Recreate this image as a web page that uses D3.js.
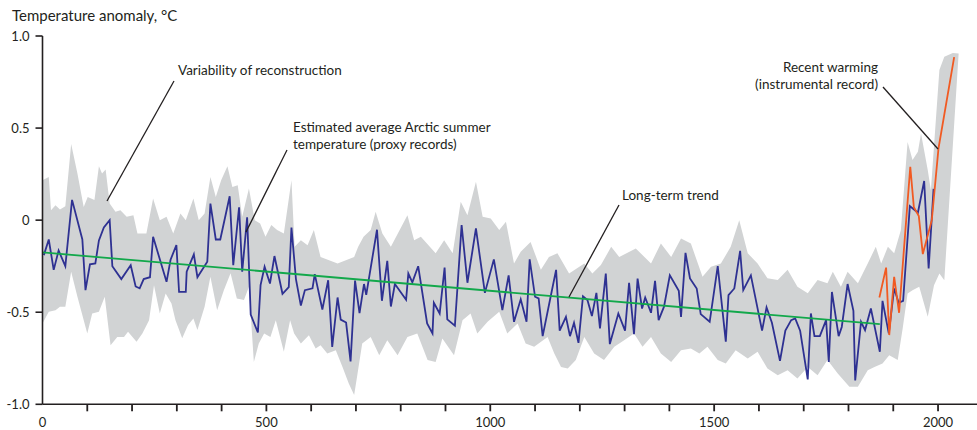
<!DOCTYPE html>
<html>
<head>
<meta charset="utf-8">
<script src="https://cdn.jsdelivr.net/npm/d3@7"></script>
<style>
  html, body { margin: 0; padding: 0; background: #fff; }
  svg { display: block; }
  text { font-family: Lato, "Open Sans", sans-serif; fill: #231f20; }
</style>
</head>
<body>
<svg id="chart" width="977" height="430"></svg>
<script>
// ---------- DATA ----------
const proxyYears = [3,14,25,36,51,66,89,96,106,118,126,137,150,156,176,197,208,217,226,240,247,277,286,299,305,320,322,338,346,368,375,387,397,418,426,439,446,457,465,481,487,496,508,518,536,550,556,566,577,586,603,608,625,638,647,659,666,678,688,698,708,718,723,747,758,770,778,787,812,817,826,839,859,871,874,887,898,904,921,936,949,968,988,1008,1027,1041,1053,1068,1081,1088,1100,1108,1117,1135,1147,1155,1169,1178,1187,1197,1207,1217,1227,1237,1245,1258,1267,1286,1301,1310,1321,1329,1339,1346,1359,1368,1376,1388,1401,1421,1426,1436,1446,1461,1470,1490,1508,1526,1532,1545,1558,1565,1582,1607,1617,1629,1647,1659,1672,1681,1692,1709,1716,1724,1736,1750,1756,1763,1778,1785,1798,1811,1815,1828,1837,1850,1870,1876,1890,1902,1912,1922,1937,1955,1969,1979,1990];
const proxyValues = [-0.19,-0.105,-0.27,-0.165,-0.25,0.11,-0.105,-0.38,-0.24,-0.235,-0.11,-0.04,0.0,-0.25,-0.32,-0.245,-0.36,-0.37,-0.32,-0.31,-0.09,-0.335,-0.215,-0.135,-0.39,-0.39,-0.28,-0.186,-0.31,-0.226,0.09,-0.105,-0.105,0.13,-0.245,0.07,-0.28,0.015,-0.513,-0.61,-0.353,-0.253,-0.344,-0.195,-0.40,-0.364,-0.04,-0.32,-0.464,-0.38,-0.37,-0.293,-0.485,-0.326,-0.688,-0.42,-0.54,-0.556,-0.767,-0.328,-0.505,-0.347,-0.406,-0.052,-0.438,-0.221,-0.469,-0.347,-0.432,-0.29,-0.338,-0.25,-0.561,-0.615,-0.449,-0.507,-0.257,-0.539,-0.573,-0.027,-0.34,-0.045,-0.395,-0.213,-0.489,-0.30,-0.552,-0.43,-0.552,-0.213,-0.416,-0.425,-0.63,-0.413,-0.27,-0.60,-0.525,-0.63,-0.557,-0.666,-0.413,-0.434,-0.521,-0.395,-0.588,-0.29,-0.673,-0.507,-0.60,-0.34,-0.619,-0.317,-0.48,-0.42,-0.503,-0.33,-0.543,-0.47,-0.30,-0.384,-0.525,-0.178,-0.317,-0.371,-0.51,-0.552,-0.25,-0.66,-0.407,-0.371,-0.167,-0.38,-0.30,-0.60,-0.474,-0.557,-0.764,-0.60,-0.543,-0.534,-0.60,-0.865,-0.507,-0.63,-0.63,-0.543,-0.77,-0.39,-0.63,-0.58,-0.347,-0.492,-0.87,-0.552,-0.597,-0.48,-0.715,-0.438,-0.615,-0.371,-0.449,-0.438,0.076,0.04,0.213,-0.262,0.17];

const instrYears  = [1869,1884,1891,1902,1913,1938,1946,1957,1966,1986,2001,2036];
const instrValues = [-0.42,-0.258,-0.624,-0.308,-0.503,0.29,0.07,0.022,-0.184,0.0,0.39,0.885];

const trendYears  = [0,1870];
const trendValues = [-0.175,-0.565];

const bandUpperYears = [0,14,19,29,39,51,64,78,92,101,116,126,133,141,150,163,174,188,203,212,232,247,262,277,292,308,320,337,349,362,375,387,399,413,424,436,446,461,474,486,498,511,524,539,556,563,577,592,606,621,659,696,705,717,733,744,759,778,815,830,845,878,897,916,934,949,968,983,1001,1020,1035,1053,1068,1090,1113,1131,1150,1176,1210,1228,1247,1270,1288,1325,1359,1381,1404,1426,1448,1474,1493,1515,1537,1556,1575,1597,1619,1642,1664,1686,1709,1731,1753,1765,1783,1798,1821,1843,1861,1873,1888,1902,1917,1932,1943,1955,1962,1977,1984,2003,2014,2033,2046];
const bandUpperValues = [0.217,0.235,0.054,0.081,0.058,0.075,0.413,0.253,0.072,0.126,0.109,0.293,0.253,0.275,0.09,0.045,0.054,0.018,0.027,-0.072,-0.072,0.118,0,0.018,-0.072,0.036,0,0.118,0,0.036,0.235,0.126,0.217,0.293,0.18,0.19,0.018,0.172,0,-0.018,-0.09,-0.027,-0.054,-0.072,0.217,-0.145,-0.109,-0.136,-0.054,-0.2,-0.235,-0.2,-0.145,-0.09,-0.054,0.045,-0.072,-0.145,0.027,-0.109,-0.09,-0.18,-0.109,-0.18,0.1,0.027,0.208,0.018,0.009,-0.054,-0.009,-0.235,-0.172,-0.118,-0.27,-0.2,-0.18,-0.29,-0.235,-0.29,-0.244,-0.145,-0.2,-0.154,-0.235,-0.127,-0.2,-0.1,-0.127,-0.307,-0.253,-0.235,-0.145,0,-0.18,-0.235,-0.316,-0.325,-0.27,-0.361,-0.397,-0.325,-0.343,-0.28,-0.361,-0.28,-0.343,-0.235,-0.145,-0.235,-0.145,-0.18,-0.054,0.425,0.326,0.371,0.47,0.272,0.163,0.815,0.887,0.908,0.905];

const bandLowerYears = [0,14,29,39,51,64,78,100,111,126,139,152,167,182,191,210,223,238,249,262,275,288,297,312,325,337,346,362,375,390,405,420,434,450,461,472,483,495,509,521,539,553,562,577,595,610,621,636,655,670,684,696,703,714,733,752,770,793,815,837,860,878,893,919,938,956,971,994,1020,1038,1061,1079,1098,1128,1143,1158,1173,1191,1210,1232,1254,1277,1299,1321,1340,1359,1381,1404,1426,1448,1467,1485,1508,1526,1548,1575,1597,1619,1642,1664,1686,1709,1731,1753,1776,1802,1821,1843,1858,1876,1891,1910,1921,1932,1943,1958,1977,1991,2003,2014,2046];
const bandLowerValues = [-0.561,-0.498,-0.489,-0.47,-0.47,-0.28,-0.416,-0.615,-0.507,-0.498,-0.416,-0.679,-0.634,-0.634,-0.606,-0.66,-0.615,-0.543,-0.353,-0.507,-0.398,-0.452,-0.543,-0.642,-0.57,-0.534,-0.597,-0.47,-0.308,-0.489,-0.38,-0.289,-0.425,-0.434,-0.361,-0.77,-0.67,-0.615,-0.634,-0.543,-0.715,-0.543,-0.615,-0.67,-0.625,-0.697,-0.679,-0.724,-0.706,-0.797,-0.887,-0.95,-0.842,-0.67,-0.634,-0.733,-0.652,-0.733,-0.634,-0.615,-0.76,-0.77,-0.643,-0.733,-0.543,-0.507,-0.615,-0.552,-0.498,-0.615,-0.561,-0.67,-0.688,-0.634,-0.724,-0.797,-0.806,-0.76,-0.634,-0.724,-0.76,-0.688,-0.652,-0.615,-0.688,-0.634,-0.724,-0.77,-0.706,-0.697,-0.724,-0.688,-0.76,-0.779,-0.706,-0.751,-0.715,-0.806,-0.842,-0.815,-0.86,-0.797,-0.842,-0.76,-0.833,-0.905,-0.905,-0.815,-0.797,-0.779,-0.733,-0.76,-0.588,-0.398,-0.38,-0.362,-0.525,-0.353,-0.29,-0.326,0.905];

const yTicks = [-1.0,-0.5,0,0.5,1.0];
const yTickLabels = ["-1.0","-0.5","0","0.5","1.0"];
const xTicks = d3.range(0, 2001, 100);
const xTickLabels = ["0","500","1000","1500","2000"];
const yAxisTitle = "Temperature anomaly, °C";

// ---------- SCALES ----------
const svg = d3.select("#chart");
const x = d3.scaleLinear().domain([0, 2087]).range([42.5, 977]);
const y = d3.scaleLinear().domain([-1, 1]).range([404.3, 36]);

const ink = "#231f20";

// ---------- BAND ----------
const upperPts = bandUpperYears.map((yr, i) => [yr, bandUpperValues[i]]);
const lowerPts = bandLowerYears.map((yr, i) => [yr, bandLowerValues[i]]);
const polygon = upperPts.concat(lowerPts.slice().reverse());
const lineGen = d3.line().x(d => x(d[0])).y(d => y(d[1]));
svg.append("path")
  .attr("d", lineGen(polygon) + "Z")
  .attr("fill", "#d1d3d4")
  .attr("stroke", "none");

// ---------- LINES ----------
const proxyPts = proxyYears.map((yr, i) => [yr, proxyValues[i]]);
const instrPts = instrYears.map((yr, i) => [yr, instrValues[i]]);
const trendPts = trendYears.map((yr, i) => [yr, trendValues[i]]);

svg.append("path").attr("d", lineGen(proxyPts))
  .attr("fill", "none").attr("stroke", "#2e3192").attr("stroke-width", 1.8)
  .attr("stroke-linejoin", "miter");
svg.append("path").attr("d", lineGen(trendPts))
  .attr("fill", "none").attr("stroke", "#12a84b").attr("stroke-width", 1.8);
svg.append("path").attr("d", lineGen(instrPts))
  .attr("fill", "none").attr("stroke", "#f15a22").attr("stroke-width", 1.8);

// ---------- AXES ----------
const gx = svg.append("g").attr("transform", `translate(0,${y(-1)})`);
gx.append("line").attr("x1", x(0)).attr("x2", 977).attr("y1", 0).attr("y2", 0)
  .attr("stroke", ink).attr("stroke-width", 1.6);
gx.selectAll("line.tick").data(xTicks.filter(d => d > 0)).enter().append("line")
  .attr("class", "tick")
  .attr("x1", d => x(d)).attr("x2", d => x(d))
  .attr("y1", 0).attr("y2", 7)
  .attr("stroke", ink).attr("stroke-width", 1.8);
gx.selectAll("text").data(xTickLabels).enter().append("text")
  .attr("x", d => x(+d)).attr("y", 23)
  .attr("text-anchor", "middle")
  .attr("font-size", 13)
  .text(d => d);

const gy = svg.append("g").attr("transform", `translate(${x(0)},0)`);
gy.append("line").attr("x1", 0).attr("x2", 0).attr("y1", y(1)).attr("y2", y(-1))
  .attr("stroke", ink).attr("stroke-width", 1.6);
gy.selectAll("line.tick").data(yTicks).enter().append("line")
  .attr("class", "tick")
  .attr("x1", -7).attr("x2", 0)
  .attr("y1", d => y(d)).attr("y2", d => y(d))
  .attr("stroke", ink).attr("stroke-width", 1.6);
gy.selectAll("text").data(yTicks).enter().append("text")
  .attr("x", -13).attr("y", d => y(d) + 4.5)
  .attr("text-anchor", "end")
  .attr("font-size", 13)
  .text((d, i) => yTickLabels[i]);

svg.append("text").attr("x", 12).attr("y", 21)
  .attr("font-size", 15).text(yAxisTitle);

// ---------- ANNOTATIONS ----------
const notes = [
  { lines: ["Variability of reconstruction"], tx: 178, ty: 75, anchor: "start", from: [174, 81], to: [107, 201] },
  { lines: ["Estimated average Arctic summer", "temperature (proxy records)"], tx: 293, ty: 132, anchor: "start", from: [287, 150], to: [246, 232] },
  { lines: ["Long-term trend"], tx: 622, ty: 200, anchor: "start", from: [619, 205], to: [569, 297] },
  { lines: ["Recent warming", "(instrumental record)"], tx: 878, ty: 72, anchor: "end", from: [883, 87], to: [938, 149] }
];
notes.forEach(n => {
  svg.append("line")
    .attr("x1", n.from[0]).attr("y1", n.from[1])
    .attr("x2", n.to[0]).attr("y2", n.to[1])
    .attr("stroke", ink).attr("stroke-width", 1.3);
  const t = svg.append("text").attr("x", n.tx).attr("y", n.ty)
    .attr("text-anchor", n.anchor).attr("font-size", 13.5);
  n.lines.forEach((l, i) => {
    t.append("tspan").attr("x", n.tx).attr("dy", i === 0 ? 0 : 17).text(l);
  });
});
</script>
</body>
</html>
